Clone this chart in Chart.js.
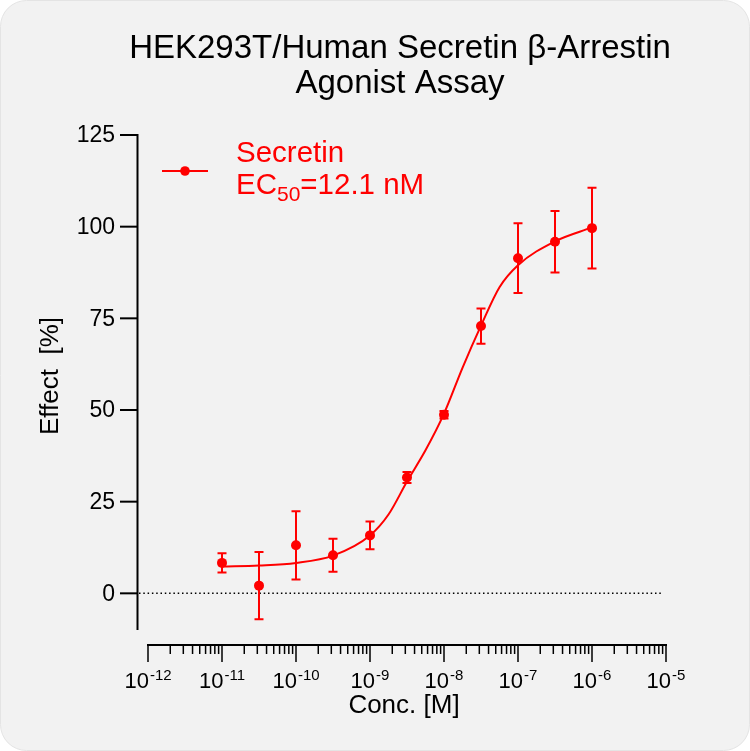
<!DOCTYPE html>
<html>
<head>
<meta charset="utf-8">
<script src="https://cdn.jsdelivr.net/npm/chart.js@4.4.1/dist/chart.umd.min.js"></script>
<style>
  html, body { margin: 0; padding: 0; background: #ffffff; }
  canvas { display: block; }
</style>
</head>
<body>
<canvas id="chart" width="750" height="751"></canvas>
<script>
// measured points (mean +/- error)
const conc = [1e-11, 3.162e-11, 1e-10, 3.162e-10, 1e-9, 3.162e-9, 1e-8, 3.162e-8, 1e-7, 3.162e-7, 1e-6];
const effect = [8.3, 2.1, 13.1, 10.4, 15.8, 31.6, 48.7, 72.9, 91.4, 95.9, 99.6];
const errBar = [2.6, 9.2, 9.3, 4.5, 3.8, 1.5, 1.0, 4.8, 9.5, 8.4, 11.0];

// fitted curve
const fitConc = [1e-11, 3.162e-11, 1e-10, 3.162e-10, 1e-9, 1.778e-9, 3.162e-9, 5.623e-9, 1e-8, 1.778e-8, 3.162e-8, 5.623e-8, 1e-7, 3.162e-7, 1e-6];
const fitEffect = [7.3, 7.6, 8.3, 10.3, 15.8, 21.5, 30.5, 39.0, 49.0, 61.5, 73.0, 83.5, 89.5, 96.0, 99.8];

const xExponents = [-12, -11, -10, -9, -8, -7, -6, -5];
const yTicks = [0, 25, 50, 75, 100, 125];

const RED = '#ff0000';
const FONT = 'Arial, "Liberation Sans", Helvetica, sans-serif';

const drawBits = {
    id: 'drawBits',
    beforeDraw(chart) {
        const ctx = chart.ctx;
        ctx.save();
        ctx.fillStyle = '#ffffff';
        ctx.fillRect(0, 0, chart.width, chart.height);
        ctx.beginPath();
        ctx.roundRect(0.5, 0.5, chart.width - 1, chart.height - 1, 26);
        ctx.fillStyle = '#f2f2f2';
        ctx.fill();
        ctx.strokeStyle = '#e4e4e4';
        ctx.lineWidth = 1;
        ctx.stroke();
        ctx.restore();
    },
    beforeDatasetsDraw(chart) {
        const ctx = chart.ctx;
        const xs = chart.scales.x, ys = chart.scales.y;
        ctx.save();

        // dotted zero line
        const y0 = ys.getPixelForValue(0);
        ctx.strokeStyle = '#000';
        ctx.lineWidth = 1.5;
        ctx.setLineDash([1.5, 2.8]);
        ctx.beginPath();
        ctx.moveTo(139, y0);
        ctx.lineTo(xs.getPixelForValue(9e-6), y0);
        ctx.stroke();
        ctx.setLineDash([]);

        // error bars
        ctx.strokeStyle = RED;
        ctx.lineWidth = 2;
        conc.forEach((c, i) => {
            const px = xs.getPixelForValue(c);
            const top = ys.getPixelForValue(effect[i] + errBar[i]);
            const bot = ys.getPixelForValue(effect[i] - errBar[i]);
            ctx.beginPath();
            ctx.moveTo(px, top); ctx.lineTo(px, bot);
            ctx.moveTo(px - 4.5, top); ctx.lineTo(px + 4.5, top);
            ctx.moveTo(px - 4.5, bot); ctx.lineTo(px + 4.5, bot);
            ctx.stroke();
        });
        ctx.restore();
    },
    afterDraw(chart) {
        const ctx = chart.ctx;
        const xs = chart.scales.x, ys = chart.scales.y;
        ctx.save();
        ctx.strokeStyle = '#000';
        ctx.fillStyle = '#000';
        ctx.lineWidth = 2;

        // y axis
        const axX = 137.5;
        ctx.beginPath();
        ctx.moveTo(axX, ys.getPixelForValue(125) - 1);
        ctx.lineTo(axX, ys.getPixelForValue(-10));
        ctx.stroke();
        ctx.font = '23px ' + FONT;
        ctx.textAlign = 'right';
        ctx.textBaseline = 'middle';
        yTicks.forEach(v => {
            const py = ys.getPixelForValue(v);
            ctx.beginPath();
            ctx.moveTo(120, py); ctx.lineTo(axX, py);
            ctx.stroke();
            ctx.fillText(String(v), 115, py + 1);
        });

        // x axis
        const axY = 645;
        const xl = xs.getPixelForValue(1e-12), xr = xs.getPixelForValue(1e-5);
        ctx.beginPath();
        ctx.moveTo(xl - 1, axY); ctx.lineTo(xr + 1, axY);
        ctx.stroke();
        ctx.lineWidth = 1.5;
        xExponents.forEach((e, k) => {
            const px = xs.getPixelForValue(Math.pow(10, e));
            ctx.beginPath();
            ctx.moveTo(px, axY); ctx.lineTo(px, axY + 17);
            ctx.stroke();
            if (k < xExponents.length - 1) {
                for (let m = 2; m <= 9; m++) {
                    const mx = xs.getPixelForValue(m * Math.pow(10, e));
                    ctx.beginPath();
                    ctx.moveTo(mx, axY); ctx.lineTo(mx, axY + 9);
                    ctx.stroke();
                }
            }
            // label 10^e
            ctx.textBaseline = 'alphabetic';
            ctx.textAlign = 'left';
            ctx.font = '22px ' + FONT;
            const wBase = ctx.measureText('10').width;
            ctx.font = '15px ' + FONT;
            const sup = String(e);
            const wSup = ctx.measureText(sup).width;
            const start = px - (wBase + 1 + wSup) / 2;
            ctx.font = '22px ' + FONT;
            ctx.fillText('10', start, 688);
            ctx.font = '15px ' + FONT;
            ctx.fillText(sup, start + wBase + 1, 680);
        });

        // axis titles
        ctx.font = '26px ' + FONT;
        ctx.textAlign = 'center';
        ctx.textBaseline = 'alphabetic';
        ctx.fillText('Conc. [M]', 404, 713);
        ctx.save();
        ctx.translate(58, 376);
        ctx.rotate(-Math.PI / 2);
        ctx.fillText('Effect  [%]', 0, 0);
        ctx.restore();

        // title
        ctx.font = '33px ' + FONT;
        ctx.fillText('HEK293T/Human Secretin \u03b2-Arrestin', 400, 58);
        ctx.fillText('Agonist Assay', 400, 93);

        // legend
        ctx.strokeStyle = RED;
        ctx.fillStyle = RED;
        ctx.lineWidth = 2;
        ctx.beginPath();
        ctx.moveTo(162, 171); ctx.lineTo(208, 171);
        ctx.stroke();
        ctx.beginPath();
        ctx.arc(185, 171, 4.8, 0, Math.PI * 2);
        ctx.fill();
        ctx.textAlign = 'left';
        ctx.font = '29.5px ' + FONT;
        ctx.fillText('Secretin', 236, 162);
        ctx.fillText('EC', 236, 194);
        let lx = 236 + ctx.measureText('EC').width;
        ctx.font = '21px ' + FONT;
        ctx.fillText('50', lx, 201);
        lx += ctx.measureText('50').width;
        ctx.font = '29.5px ' + FONT;
        ctx.fillText('=12.1 nM', lx, 194);
        ctx.restore();
    }
};

new Chart(document.getElementById('chart'), {
    type: 'scatter',
    data: {
        datasets: [{
            label: 'fit',
            data: fitConc.map((c, i) => ({ x: c, y: fitEffect[i] })),
            showLine: true,
            borderColor: RED,
            borderWidth: 2,
            pointRadius: 0,
            cubicInterpolationMode: 'monotone'
        }, {
            label: 'Secretin',
            data: conc.map((c, i) => ({ x: c, y: effect[i] })),
            showLine: false,
            pointRadius: 5,
            pointBackgroundColor: RED,
            pointBorderColor: RED,
            pointBorderWidth: 0
        }]
    },
    options: {
        responsive: false,
        animation: false,
        layout: { padding: { left: 148, right: 84, top: 135, bottom: 121 } },
        scales: {
            x: { type: 'logarithmic', min: 1e-12, max: 1e-5, display: false },
            y: { type: 'linear', min: -10, max: 125, display: false }
        },
        plugins: {
            legend: { display: false },
            tooltip: { enabled: false }
        }
    },
    plugins: [drawBits]
});
</script>
</body>
</html>
